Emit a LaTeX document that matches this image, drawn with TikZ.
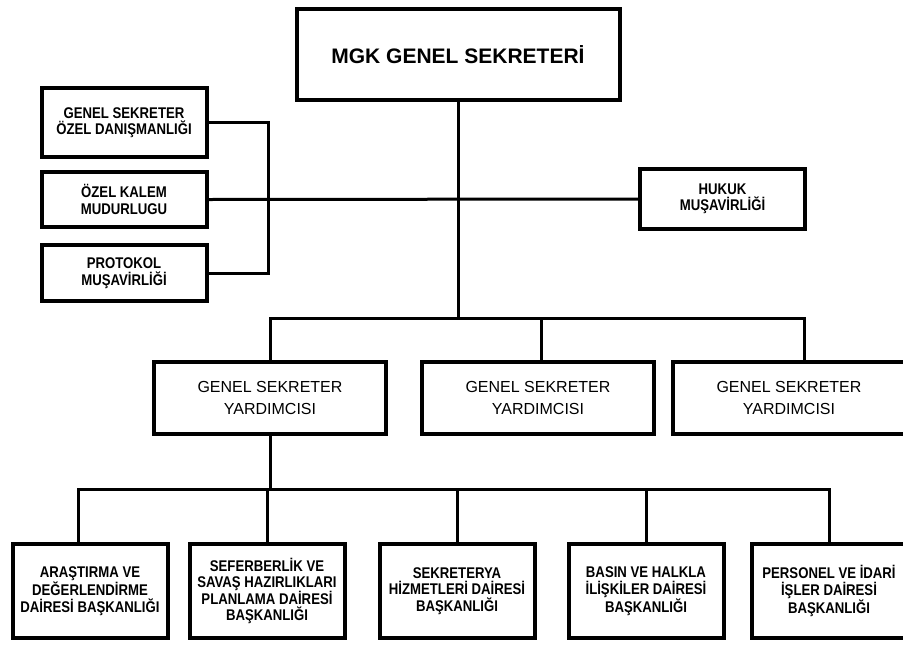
\documentclass[tikz,border=0pt]{standalone}
\usepackage{fontspec}
\setmainfont{Liberation Sans}
\newfontfamily\narrowbf[FakeStretch=0.85]{Liberation Sans}
\usetikzlibrary{positioning}

\begin{document}
\begin{tikzpicture}[x=1pt,y=-1pt,head/.style={rectangle, draw=black, line width=4pt, minimum width=323pt, minimum height=91pt, font=\bfseries\fontsize{21}{25}\selectfont},office/.style={rectangle, draw=black, line width=4pt, align=center, inner sep=0pt, font=\narrowbf\bfseries\fontsize{15.5}{16.5}\selectfont},deputy/.style={rectangle, draw=black, line width=4pt, align=center, minimum width=232pt, minimum height=72pt, font=\fontsize{16}{22.5}\selectfont},dept/.style={office, minimum width=155pt, minimum height=94pt},link/.style={line width=3pt}]
                \useasboundingbox (0,0) rectangle (903,646);
                \node[head] (gensek) at (458,54.5) {MGK GENEL SEKRETERİ};
                \node[office, minimum width=165pt, minimum height=69pt] (ozel_dan) at (124,122.5) {GENEL SEKRETER\\ÖZEL DANIŞMANLIĞI};
                \node[office, minimum width=165pt, minimum height=55pt, below=11pt of ozel_dan] (ozel_kalem) {ÖZEL KALEM\\MUDURLUGU};
                \node[office, minimum width=165pt, minimum height=56pt, below=14pt of ozel_kalem] (protokol) {PROTOKOL\\MUŞAVİRLİĞİ};
                \node[office, minimum width=165pt, minimum height=60pt] (hukuk) at (722.5,199) {HUKUK\\MUŞAVİRLİĞİ};
                \node[deputy] (gsy_a) at (270,398) {GENEL SEKRETER\\YARDIMCISI};
                \node[deputy, right=32pt of gsy_a] (gsy_b) {GENEL SEKRETER\\YARDIMCISI};
                \node[deputy, right=15pt of gsy_b] (gsy_c) {GENEL SEKRETER\\YARDIMCISI};
                \node[dept] (arastirma) at (90,591) {ARAŞTIRMA VE\\DEĞERLENDİRME\\DAİRESİ BAŞKANLIĞI};
                \node[dept, right=18pt of arastirma] (seferberlik) {SEFERBERLİK VE\\SAVAŞ HAZIRLIKLARI\\PLANLAMA DAİRESİ\\BAŞKANLIĞI};
                \node[dept, right=31pt of seferberlik] (sekreterya) {SEKRETERYA\\HİZMETLERİ DAİRESİ\\BAŞKANLIĞI};
                \node[dept, right=30pt of sekreterya] (basin) {BASIN VE HALKLA\\İLİŞKİLER DAİRESİ\\BAŞKANLIĞI};
                \node[dept, right=24pt of basin] (personel) {PERSONEL VE İDARİ\\İŞLER DAİRESİ\\BAŞKANLIĞI};
                \coordinate (bus_top) at (0,318);
                \coordinate (bus_low) at (0,489);
                \coordinate (bracket) at (268,0);
                \coordinate (gsy_c_in) at ([xshift=15pt]gsy_c.north);
                \coordinate (arastirma_in) at ([xshift=-12pt]arastirma.north);
                \draw[link] (gensek.south) -- (gensek.south |- bus_top);
                \draw[link] (ozel_dan.east) -| (bracket |- protokol.east) -- (protokol.east);
                \draw[link] (ozel_kalem.east) -- (hukuk.west);
                \draw[link] (gsy_a.north) |- (gsy_c_in |- bus_top) -- (gsy_c_in);
                \draw[link] ([xshift=3pt]gsy_b.north) -- ([xshift=3pt]gsy_b.north |- bus_top);
                \draw[link] (gsy_a.south) -- (gsy_a.south |- bus_low);
                \draw[link] (arastirma_in) |- (personel.north |- bus_low) -- (personel.north);
                \draw[link] (seferberlik.north) -- (seferberlik.north |- bus_low);
                \draw[link] (sekreterya.north) -- (sekreterya.north |- bus_low);
                \draw[link] (basin.north) -- (basin.north |- bus_low);
            \end{tikzpicture}
\end{document}
